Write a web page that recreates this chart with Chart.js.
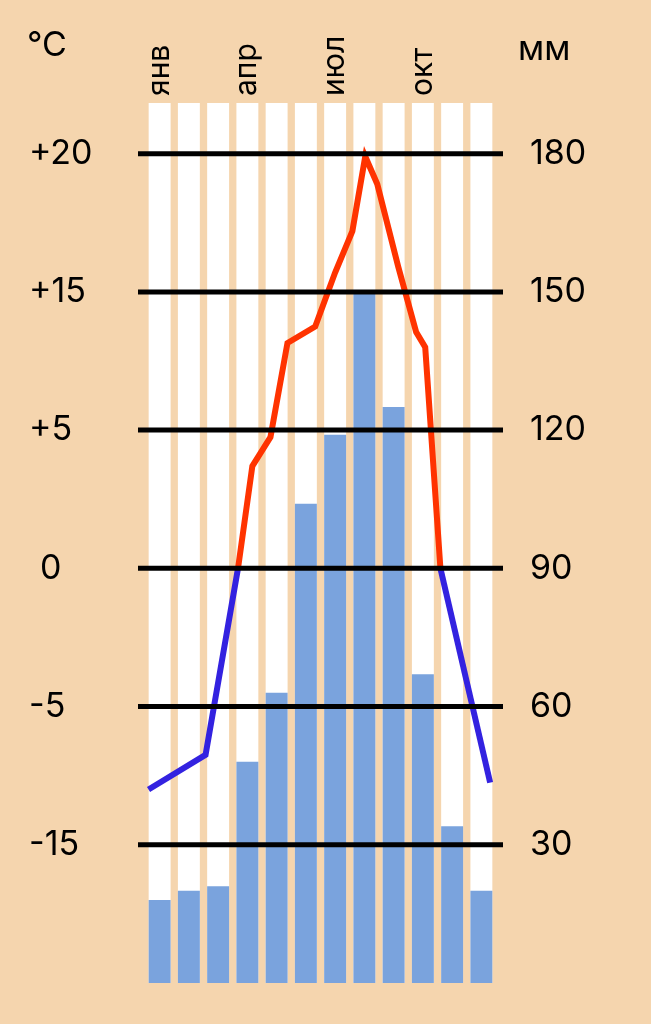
<!DOCTYPE html>
<html>
<head>
<meta charset="utf-8">
<script src="https://cdn.jsdelivr.net/npm/chart.js@4"></script>
<style>
  body { margin: 0; background: #F5D5AE; }
  #wrap { width: 651px; height: 1024px; }
</style>
</head>
<body>
<div id="wrap"><canvas id="climate"></canvas></div>
<script>
// Месяцы и осадки (мм)
const months = ['янв', 'фев', 'мар', 'апр', 'май', 'июн', 'июл', 'авг', 'сен', 'окт', 'ноя', 'дек'];
const monthLabels = ['янв', 'апр', 'июл', 'окт'];
const precip = [18, 20, 21, 48, 63, 104, 119, 150, 125, 67, 34, 20];

// Шкалы: осадки справа, температура слева (неравномерная)
const mmTicks = [30, 60, 90, 120, 150, 180];
const tempTicks = [-15, -5, 0, 5, 15, 20];

// Температура: положение по месяцам (0 = янв) и значение, °C
const tempX = [-0.38, 1.57, 2.68, 3.17, 3.79, 4.37, 5.32, 6.0, 6.59, 7.03, 7.44, 8.16, 8.77, 9.08, 9.6, 11.3];
const tempY = [-11, -8.5, 0, 3.7, 4.75, 11.3, 12.5, 15.7, 17.2, 19.9, 18.9, 15.9, 12.1, 11, 0, -10.5];

const yMax = 191;

// перевод температуры в позицию на шкале мм по подписям осей
function tempToMm(t) {
    for (let i = 0; i < tempTicks.length - 1; i++) {
        const a = tempTicks[i], b = tempTicks[i + 1];
        if (t <= b || i === tempTicks.length - 2) {
            return mmTicks[i] + (t - a) / (b - a) * (mmTicks[i + 1] - mmTicks[i]);
        }
    }
}

const font = '"Inter", "DejaVu Sans", sans-serif';

const decor = {
    id: 'decor',
    afterDatasetsDraw(chart) {
        const ctx = chart.ctx;
        const y = chart.scales.y;
        ctx.save();
        // черные линии
        ctx.strokeStyle = '#000';
        ctx.lineWidth = 5;
        mmTicks.forEach(v => {
            const py = y.getPixelForValue(v);
            ctx.beginPath();
            ctx.moveTo(138, py);
            ctx.lineTo(503, py);
            ctx.stroke();
        });
        ctx.restore();
    },
    afterDraw(chart) {
        const ctx = chart.ctx;
        const y = chart.scales.y;
        const x = chart.scales.x;
        ctx.save();
        ctx.fillStyle = '#000';
        ctx.font = '34px ' + font;
        ctx.textBaseline = 'middle';
        ctx.textAlign = 'left';
        mmTicks.forEach((v, i) => {
            const py = y.getPixelForValue(v);
            const t = tempTicks[i];
            ctx.fillText(t > 0 ? '+' + t : String(t), t === 0 ? 40 : 29, py);
            ctx.fillText(String(v), 530, py);
        });
        ctx.fillText('°C', 27, 46);
        ctx.fillText('мм', 518, 50);
        // подписи месяцев
        ctx.font = '30px ' + font;
        monthLabels.forEach(m => {
            const px = x.getPixelForValue(months.indexOf(m));
            ctx.save();
            ctx.translate(px, 96);
            ctx.rotate(-Math.PI / 2);
            ctx.fillText(m, 0, 0);
            ctx.restore();
        });
        ctx.restore();
    }
};

const blue = '#3322E0';
const red = '#FF3300';

new Chart(document.getElementById('climate'), {
    type: 'bar',
    data: {
        labels: months,
        datasets: [{
            type: 'line',
            data: tempX.map((v, i) => ({x: v, y: tempToMm(tempY[i])})),
            xAxisID: 'x2',
            borderWidth: 6,
            borderColor: red,
            pointRadius: 0,
            tension: 0,
            segment: {
                borderColor: c => (tempY[c.p0DataIndex] <= 0 && tempY[c.p1DataIndex] <= 0) ? blue : red
            },
            order: 0
        }, {
            data: precip,
            backgroundColor: '#7AA3DD',
            grouped: false,
            barPercentage: 0.75,
            categoryPercentage: 1,
            order: 1
        }, {
            data: months.map(() => yMax),
            backgroundColor: '#FFFFFF',
            grouped: false,
            barPercentage: 0.75,
            categoryPercentage: 1,
            order: 2
        }]
    },
    options: {
        responsive: true,
        maintainAspectRatio: false,
        animation: false,
        layout: {padding: {left: 145, right: 155, top: 103, bottom: 41}},
        plugins: {legend: {display: false}, tooltip: {enabled: false}},
        scales: {
            x: {display: false},
            x2: {type: 'linear', display: false, offset: false, min: -0.5, max: 11.5},
            y: {display: false, min: 0, max: yMax}
        }
    },
    plugins: [decor]
});
</script>
</body>
</html>
